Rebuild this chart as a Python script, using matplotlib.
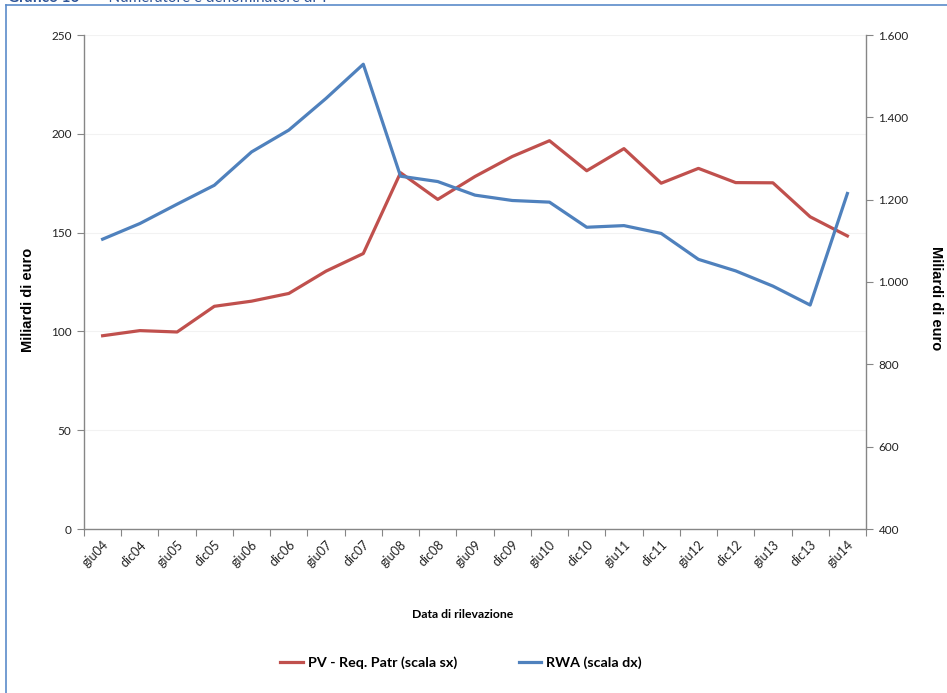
import matplotlib
matplotlib.use("Agg")
import matplotlib.pyplot as plt
from matplotlib.lines import Line2D
import numpy as np

plt.rcParams['font.family'] = ['Lato', 'DejaVu Sans']

# Reporting dates (half-yearly)
categories = ["giu04", "dic04", "giu05", "dic05", "giu06", "dic06", "giu07",
              "dic07", "giu08", "dic08", "giu09", "dic09", "giu10", "dic10",
              "giu11", "dic11", "giu12", "dic12", "giu13", "dic13", "giu14"]

# PV - capital requirement (left scale, billions of euro)
pv_req = [97.8, 100.4, 99.7, 112.7, 115.3, 119.2, 130.5, 139.4, 180.3, 166.8,
          178.4, 188.5, 196.5, 181.3, 192.5, 175.0, 182.5, 175.3, 175.2, 158.0,
          148.3]

# RWA (right scale, billions of euro)
rwa = [1104, 1142, 1189, 1235, 1316, 1369, 1446, 1529, 1257, 1244,
       1211, 1198, 1194, 1133, 1137, 1118, 1055, 1027, 990, 944,
       1215]

left_ticks = [0, 50, 100, 150, 200, 250]
right_ticks = [400, 600, 800, 1000, 1200, 1400, 1600]
right_tick_labels = ["400", "600", "800", "1.000", "1.200", "1.400", "1.600"]

RED = "#C0504D"
BLUE = "#4F81BD"
AXIS = "#868686"
TXT = "#222222"

fig = plt.figure(figsize=(9.47, 6.93), dpi=100)
ax = fig.add_axes([84 / 947, 1 - 529 / 693, (866 - 84) / 947, (529 - 35) / 693])
ax2 = ax.twinx()

x = np.arange(len(categories))
ax.plot(x, pv_req, color=RED, lw=2.3, solid_joinstyle="round", zorder=3)
ax2.plot(x, rwa, color=BLUE, lw=2.3, solid_joinstyle="round", zorder=3)

ax.set_xlim(-0.5, len(categories) - 0.5)
ax.set_ylim(0, 250)
ax2.set_ylim(400, 1600)

ax.set_yticks(left_ticks)
ax.set_yticklabels([str(v) for v in left_ticks], fontsize=8.5, color=TXT)
ax2.set_yticks(right_ticks)
ax2.set_yticklabels(right_tick_labels, fontsize=8.5, color=TXT)

# category ticks sit between categories; labels at category centres
ax.set_xticks(np.arange(len(categories) + 1) - 0.5)
ax.set_xticklabels([])
ax.set_xticks(x, minor=True)
ax.set_xticklabels(categories, minor=True, rotation=45, ha="right",
                   va="top", rotation_mode="anchor", fontsize=9, color=TXT)
ax.tick_params(axis="x", which="minor", length=0, pad=7)
ax.tick_params(axis="x", which="major", length=5, color=AXIS, direction="out")
ax.tick_params(axis="y", length=5, color=AXIS, pad=4)
ax2.tick_params(axis="y", length=5, color=AXIS, pad=4)

ax.grid(axis="y", color="#F2F2F2", lw=0.8)
ax.set_axisbelow(True)

for a in (ax, ax2):
    a.spines["top"].set_visible(False)
    for s in ("left", "right", "bottom"):
        a.spines[s].set_color(AXIS)
        a.spines[s].set_linewidth(1.0)
ax.spines["right"].set_visible(False)
ax2.spines["left"].set_visible(False)
ax2.spines["bottom"].set_visible(False)

ylab_font = {"family": ["Liberation Sans", "DejaVu Sans"], "size": 10.5,
             "weight": "bold"}
fig.text(28 / 947, 1 - 300 / 693, "Miliardi di euro", rotation=90,
         ha="center", va="center", color="black", fontdict=ylab_font)
fig.text(936 / 947, 1 - 298 / 693, "Miliardi di euro", rotation=270,
         ha="center", va="center", color="black", fontdict=ylab_font)
fig.text(463 / 947, 1 - 614 / 693, "Data di rilevazione", ha="center",
         va="center", fontsize=8.8, fontweight="bold", color="black")

handles = [Line2D([], [], color=RED, lw=2.3),
           Line2D([], [], color=BLUE, lw=2.3)]
fig.legend(handles, ["PV - Req. Patr (scala sx)", "RWA (scala dx)"],
           loc="center", bbox_to_anchor=(461 / 947, 1 - 663 / 693), ncol=2,
           frameon=False, handlelength=1.6, handletextpad=0.35,
           columnspacing=4.3, prop={"weight": "bold", "size": 10.3})

# frame around the chart area and the heading, cropped by the top edge
fig.add_artist(Line2D([6 / 947, 1.0], [1 - 5 / 693, 1 - 5 / 693],
                      transform=fig.transFigure, color="#5B8BC9", lw=1.2))
fig.add_artist(Line2D([6 / 947, 6 / 947], [0.0, 1 - 5 / 693],
                      transform=fig.transFigure, color="#5B8BC9", lw=1.2))
fig.text(8 / 947, 1 - 2.5 / 693, "Grafico 16", ha="left", va="baseline",
         fontsize=11, fontweight="bold", color="#2F5597")
fig.text(88 / 947, 1 - 2.5 / 693, "\u2013   Numeratore e denominatore di T",
         ha="left", va="baseline", fontsize=11, color="#2F5597")

fig.savefig("out.png", dpi=100)
